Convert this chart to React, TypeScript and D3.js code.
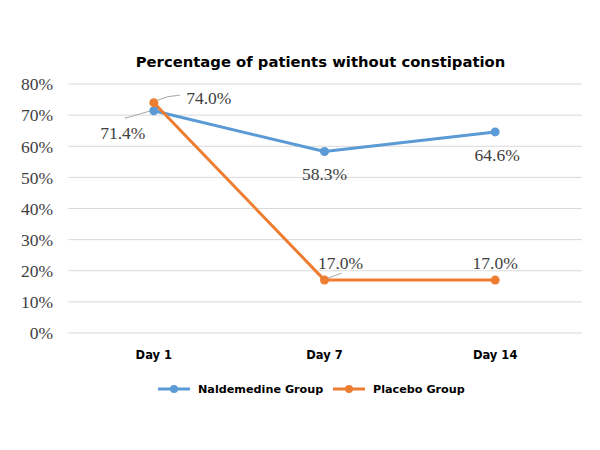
import React from "react";
import * as d3 from "d3";

const categories = ["Day 1", "Day 7", "Day 14"];
const naldemedine = [71.4, 58.3, 64.6];
const placebo = [74.0, 17.0, 17.0];
const yTicks = [0, 10, 20, 30, 40, 50, 60, 70, 80];
const seriesNames = ["Naldemedine Group", "Placebo Group"];
const title = "Percentage of patients without constipation";

const BLUE = "#5B9BD5";
const ORANGE = "#ED7D31";

export default function App() {
  const W = 600, H = 450;
  const left = 68.5, right = 580.5, top = 84, bottom = 333;
  const x = d3.scaleBand().domain(categories).range([left, right]);
  const cx = (c: string) => (x(c) as number) + x.bandwidth() / 2;
  const y = d3.scaleLinear().domain([0, 80]).range([bottom, top]);
  const line = d3.line<number>().x((_, i) => cx(categories[i])).y((d) => y(d));

  const serif = "'Liberation Serif', 'DejaVu Serif', serif";
  const sans = "'DejaVu Sans', Verdana, sans-serif";
  const numSize = 17.5;

  // label offsets relative to points (style only)
  const nLabelOff = [
    { dx: -31, dy: 22 },
    { dx: 0, dy: 22 },
    { dx: 2, dy: 23 },
  ];
  const pLabelOff = [
    { dx: 55, dy: -5 },
    { dx: 16, dy: -17.5 },
    { dx: 0, dy: -17.5 },
  ];
  const c0 = cx(categories[0]);
  const c1 = cx(categories[1]);

  return (
    <svg width={W} height={H} style={{ position: "absolute", left: 0, top: 0 }}>
      <rect width={W} height={H} fill="#fff" />
      <text x={320.5} y={66.5} textAnchor="middle" fontFamily={sans} fontWeight="bold" fontSize={14.8} fill="#000">
        {title}
      </text>
      {yTicks.map((t) => (
        <g key={t}>
          <line x1={left} x2={582} y1={y(t)} y2={y(t)} stroke="#d9d9d9" strokeWidth={1} />
          <text x={53} y={y(t)} dy="0.36em" textAnchor="end" fontFamily={serif} fontSize={numSize} fill="#404040">
            {t}%
          </text>
        </g>
      ))}
      {categories.map((c) => (
        <text key={c} x={cx(c)} y={359} textAnchor="middle" fontFamily={sans} fontWeight="bold" fontSize={11.5} fill="#000">
          {c}
        </text>
      ))}
      {/* leader lines */}
      <path d={`M${c0 + 4},${y(placebo[0]) - 2.5} L${c0 + 14},${y(placebo[0]) - 6} L${c0 + 26},${y(placebo[0]) - 7.5}`} fill="none" stroke="#a6a6a6" strokeWidth={1} />
      <path d={`M${c0 - 29},${y(naldemedine[0]) + 7.5} L${c0 - 3},${y(naldemedine[0]) + 0}`} fill="none" stroke="#a6a6a6" strokeWidth={1} />
      <path d={`M${c1 + 1},${y(placebo[1]) - 1} L${c1 + 17},${y(placebo[1]) - 7}`} fill="none" stroke="#a6a6a6" strokeWidth={1} />

      <path d={line(naldemedine) || ""} fill="none" stroke={BLUE} strokeWidth={3} strokeLinejoin="round" />
      <path d={line(placebo) || ""} fill="none" stroke={ORANGE} strokeWidth={3} strokeLinejoin="round" />
      {naldemedine.map((v, i) => (
        <circle key={"n" + i} cx={cx(categories[i])} cy={y(v)} r={4.5} fill={BLUE} />
      ))}
      {placebo.map((v, i) => (
        <circle key={"p" + i} cx={cx(categories[i])} cy={y(v)} r={4.5} fill={ORANGE} />
      ))}
      {naldemedine.map((v, i) => (
        <text key={"nl" + i} x={cx(categories[i]) + nLabelOff[i].dx} y={y(v) + nLabelOff[i].dy} dy="0.36em" textAnchor="middle" fontFamily={serif} fontSize={numSize} fill="#404040">
          {v.toFixed(1)}%
        </text>
      ))}
      {placebo.map((v, i) => (
        <text key={"pl" + i} x={cx(categories[i]) + pLabelOff[i].dx} y={y(v) + pLabelOff[i].dy} dy="0.36em" textAnchor="middle" fontFamily={serif} fontSize={numSize} fill="#404040">
          {v.toFixed(1)}%
        </text>
      ))}
      {/* legend */}
      {seriesNames.map((s, i) => {
        const lx = i === 0 ? 158 : 333;
        const col = i === 0 ? BLUE : ORANGE;
        return (
          <g key={s}>
            <line x1={lx} x2={lx + 32} y1={389} y2={389} stroke={col} strokeWidth={3} />
            <circle cx={lx + 16} cy={389} r={4} fill={col} />
            <text x={lx + 40} y={389} dy="0.35em" fontFamily={sans} fontWeight="bold" fontSize={11.2} fill="#000">
              {s}
            </text>
          </g>
        );
      })}
    </svg>
  );
}
